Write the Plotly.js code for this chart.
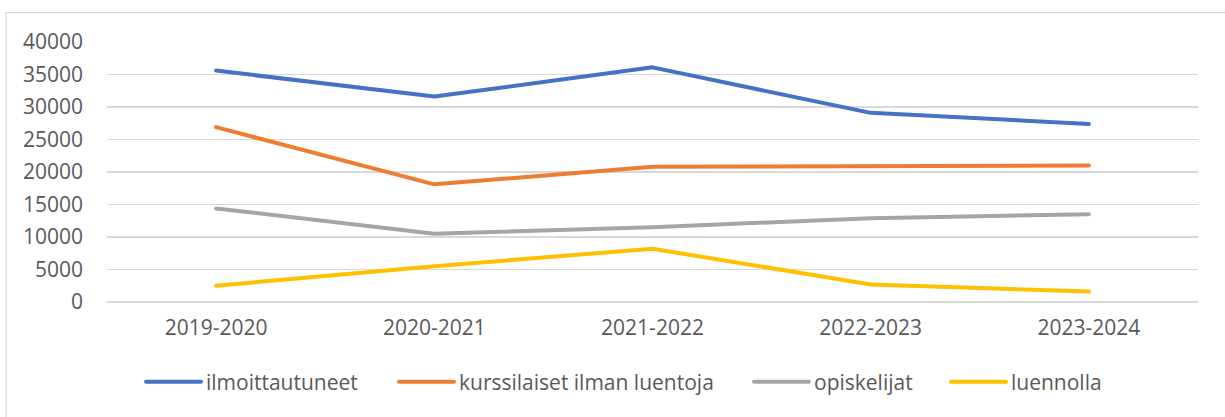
<!DOCTYPE html>
<html>
<head>
<meta charset="utf-8">
<script src="https://cdn.plot.ly/plotly-3.0.1.min.js"></script>
<style>
html,body{margin:0;padding:0;background:#fff;}
#chart{width:1225px;height:417px;}
#chart path.js-line{stroke-linecap:round;stroke-linejoin:round;}
#chart .legendlines path{stroke-linecap:round;}
</style>
</head>
<body>
<div id="chart"></div>
<script>
var years = ["2019-2020", "2020-2021", "2021-2022", "2022-2023", "2023-2024"];
var ilmoittautuneet = [35600, 31600, 36100, 29100, 27400];
var kurssilaiset = [26900, 18100, 20800, 20900, 21000];
var opiskelijat = [14400, 10500, 11500, 12900, 13500];
var luennolla = [2500, 5500, 8200, 2700, 1600];
var seriesNames = ["ilmoittautuneet", "kurssilaiset ilman luentoja", "opiskelijat", "luennolla"];
var yTicks = [0, 5000, 10000, 15000, 20000, 25000, 30000, 35000, 40000];

var colors = ["#4472C4", "#ED7D31", "#A5A5A5", "#FFC000"];
var values = [ilmoittautuneet, kurssilaiset, opiskelijat, luennolla];
var legendIds = ["legend", "legend2", "legend3", "legend4"];
var traces = values.map(function(v, i){
  return {
    x: years, y: v, name: seriesNames[i], type: "scatter", mode: "lines",
    legend: legendIds[i],
    line: {color: colors[i], width: 4}
  };
});

var L = 107, R = 1198, T = 41.5, B = 302.5, W = 1225, H = 417;
var pw = R - L, ph = B - T;
function px(x){ return (x - L) / pw; }
function py(y){ return (B - y) / ph; }

var legendStarts = [146, 399, 754, 951];
function mkLegend(xStart){
  return {
    orientation: "h", x: px(xStart - 5), xanchor: "left", y: py(383), yanchor: "middle",
    font: {size: 21, color: "#595959"}, itemwidth: 55,
    bgcolor: "rgba(0,0,0,0)", borderwidth: 0
  };
}

var layout = {
  width: W, height: H,
  margin: {l: L, r: W - R, t: T, b: H - B, pad: 0},
  paper_bgcolor: "#ffffff", plot_bgcolor: "#ffffff",
  font: {family: "Open Sans, sans-serif", size: 21, color: "#595959"},
  showlegend: true,
  xaxis: {
    type: "category", range: [-0.5, 4.5], showgrid: false, zeroline: false,
    showline: false, ticks: "", tickfont: {size: 21, color: "#595959"},
    ticklabelstandoff: 11, fixedrange: true
  },
  yaxis: {
    range: [0, 40000], tickvals: yTicks, ticktext: yTicks.map(String),
    showgrid: true, gridcolor: "#d9d9d9", gridwidth: 1.3, zeroline: true,
    zerolinecolor: "#d9d9d9", zerolinewidth: 1.3, showline: false, ticks: "",
    tickfont: {size: 21, color: "#595959"}, ticklabelstandoff: 23, fixedrange: true
  },
  legend: mkLegend(legendStarts[0]),
  legend2: mkLegend(legendStarts[1]),
  legend3: mkLegend(legendStarts[2]),
  legend4: mkLegend(legendStarts[3]),
  shapes: [{
    type: "rect", xref: "paper", yref: "paper",
    x0: px(6), x1: px(1240), y0: py(12), y1: py(430),
    line: {color: "#d9d9d9", width: 1.3}, fillcolor: "rgba(0,0,0,0)", layer: "below"
  }]
};

Plotly.newPlot("chart", traces, layout, {displayModeBar: false, staticPlot: true});
</script>
</body>
</html>
